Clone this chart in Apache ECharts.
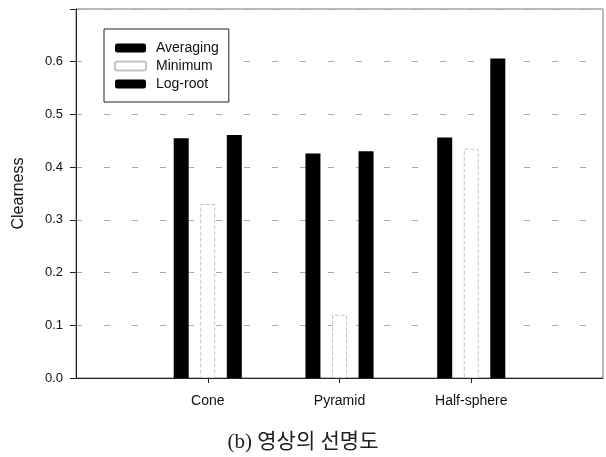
<!DOCTYPE html>
<html><head><meta charset="utf-8">
<script src="https://cdn.jsdelivr.net/npm/echarts@6/dist/echarts.min.js"></script>
<style>html,body{margin:0;padding:0;background:#fff}#c{width:606px;height:457px}</style>
</head><body><div id="c"></div>
<script>
const categories = ['', 'Cone', 'Pyramid', 'Half-sphere', ''];
const averaging = [null, 0.455, 0.426, 0.456, null];
const minimum = [null, 0.33, 0.12, 0.435, null];
const logroot = [null, 0.461, 0.43, 0.606, null];
const yTicks = [0, 0.1, 0.2, 0.3, 0.4, 0.5, 0.6];

const chart = echarts.init(document.getElementById('c'));
const font = 'Liberation Sans, Arial, sans-serif';
chart.setOption({
  animation: false,
  backgroundColor: '#fff',
  title: {
    text: '(b) 영상의 선명도',
    left: 'center', top: 427,
    textStyle: {fontFamily: 'Liberation Serif, Noto Sans CJK KR', fontSize: 21, fontWeight: 'normal', color: '#222'}
  },
  legend: {
    orient: 'vertical', left: 104, top: 29,
    itemWidth: 31, itemHeight: 9, itemGap: 4,
    padding: [12, 10, 11, 10],
    borderColor: '#222', borderWidth: 1, backgroundColor: '#fff',
    textStyle: {fontFamily: font, fontSize: 14, lineHeight: 14, color: '#111', padding: [0, 0, 0, 5]},
    data: ['Averaging', 'Minimum', 'Log-root']
  },
  grid: {left: 76, right: 1, top: 9, bottom: 79, show: true, borderColor: '#777', borderWidth: 1},
  xAxis: {
    type: 'category', data: categories, boundaryGap: false,
    axisLine: {lineStyle: {color: '#222'}},
    axisTick: {length: 5, lineStyle: {color: '#222'}, interval: function(i){ return i > 0 && i < 4; }},
    axisLabel: {fontFamily: font, fontSize: 14, color: '#111', margin: 16, interval: 0},
    splitLine: {show: false}
  },
  yAxis: {
    type: 'value', min: 0, max: 0.7, interval: 0.1,
    name: 'Clearness', nameLocation: 'middle', nameGap: 49, nameRotate: 90,
    nameTextStyle: {fontFamily: font, fontSize: 16, color: '#111'},
    axisLine: {show: true, lineStyle: {color: '#222'}},
    axisTick: {show: true, length: 6, lineStyle: {color: '#222'}},
    axisLabel: {fontFamily: font, fontSize: 13, color: '#111', margin: 13,
      formatter: function(v){ return yTicks.some(t => Math.abs(t - v) < 1e-6) ? v.toFixed(1) : ''; }},
    splitLine: {show: true, lineStyle: {color: '#aaa', type: [6, 22], width: 1}}
  },
  series: [
    {name: 'Averaging', type: 'bar', data: averaging, barWidth: 15, barGap: '77%',
      itemStyle: {color: '#000'}},
    {name: 'Minimum', type: 'bar', data: minimum, barWidth: 15, barGap: '77%',
      itemStyle: {color: '#fff', borderColor: '#c4c4c4', borderWidth: 1, borderType: 'dashed'}},
    {name: 'Log-root', type: 'bar', data: logroot, barWidth: 15, barGap: '77%',
      itemStyle: {color: '#000'}}
  ]
});
</script></body></html>
